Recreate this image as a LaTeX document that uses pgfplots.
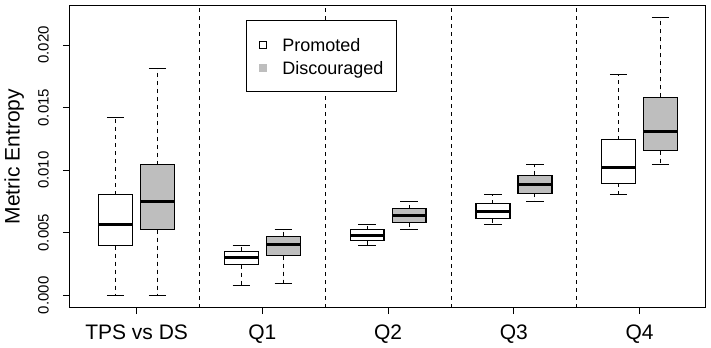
\documentclass[border=0pt]{standalone}
\usepackage{pgfplots}
\pgfplotsset{compat=1.18}
\usepgfplotslibrary{statistics}
\usepackage{fontspec}
\setmainfont{Liberation Sans}
\definecolor{rgray}{HTML}{BEBEBE}

\pgfplotsset{
  boxplot/draw/lower whisker/.code={%
    \draw[line width=0.9bp, dash pattern=on 4bp off 4bp]
      (boxplot box cs:\pgfplotsboxplotvalue{lower quartile},0.5) --
      (boxplot box cs:\pgfplotsboxplotvalue{lower whisker},0.5);
    \draw[line width=1.1bp, solid]
      (boxplot whisker cs:\pgfplotsboxplotvalue{lower whisker},0) --
      (boxplot whisker cs:\pgfplotsboxplotvalue{lower whisker},1);
  },
  boxplot/draw/upper whisker/.code={%
    \draw[line width=0.9bp, dash pattern=on 4bp off 4bp]
      (boxplot box cs:\pgfplotsboxplotvalue{upper quartile},0.5) --
      (boxplot box cs:\pgfplotsboxplotvalue{upper whisker},0.5);
    \draw[line width=1.1bp, solid]
      (boxplot whisker cs:\pgfplotsboxplotvalue{upper whisker},0) --
      (boxplot whisker cs:\pgfplotsboxplotvalue{upper whisker},1);
  },
  pbox/.style={draw=black, fill=white, line width=1.3bp, solid, mark=none,
    forget plot,
    boxplot/draw direction=y,
    boxplot/box extend=0.27, boxplot/whisker extend=0.14,
    boxplot/every median/.style={line width=3.2bp}},
  dbox/.style={pbox, fill=rgray},
  sep/.style={black, line width=0.9bp, dash pattern=on 4bp off 4bp, forget plot},
}

% values in units of 0.001
% position, lower whisker, lower quartile, median, upper quartile, upper whisker
\newcommand{\bx}[7]{%
  \addplot[#7, boxplot prepared={draw position=#1, lower whisker=#2,
    lower quartile=#3, median=#4, upper quartile=#5, upper whisker=#6}]
    coordinates {};
}

\begin{document}
\begin{tikzpicture}
\begin{axis}[
  scale only axis,
  width=635bp, height=301bp,
  xmin=0.47, xmax=5.52,
  ymin=-0.936, ymax=23.12,
  axis line style={line width=1bp},
  xtick={1,2,3,4,5},
  xticklabels={TPS vs DS,Q1,Q2,Q3,Q4},
  ytick={0,5,10,15,20},
  yticklabels={0.000,0.005,0.010,0.015,0.020},
  xtick pos=left, ytick pos=left,
  tick align=outside,
  major tick length=7bp,
  tick style={black, line width=1bp},
  yticklabel style={xshift=-14bp, rotate=90, anchor=south, inner sep=0pt,
    font=\fontsize{15bp}{18bp}\selectfont},
  xticklabel style={yshift=-11bp, inner sep=0pt, font=\fontsize{21bp}{25bp}\selectfont},
  ylabel={Metric Entropy},
  ylabel style={at={(axis description cs:-0.088,0.5)}, anchor=center,
    inner sep=0pt, font=\fontsize{21bp}{25bp}\selectfont},
  legend style={at={(axis description cs:0.277,0.9535)}, anchor=north west,
    draw=black, line width=1bp, inner xsep=13bp, inner ysep=14bp,
    font=\fontsize{18bp}{21bp}\selectfont,
    nodes={inner sep=0pt, text height=17bp, text depth=3bp},
    row sep=3.5bp, column sep=15bp},
  legend cell align=left,
]

% separators
\addplot[sep] coordinates {(1.5,-1) (1.5,24)};
\addplot[sep] coordinates {(2.5,-1) (2.5,24)};
\addplot[sep] coordinates {(3.5,-1) (3.5,24)};
\addplot[sep] coordinates {(4.5,-1) (4.5,24)};

% TPS vs DS
\bx{0.833}{0}{3.97}{5.68}{8.05}{14.21}{pbox}
\bx{1.167}{0}{5.25}{7.50}{10.45}{18.13}{dbox}
% Q1
\bx{1.833}{0.77}{2.45}{3.01}{3.50}{3.97}{pbox}
\bx{2.167}{0.93}{3.17}{4.05}{4.72}{5.23}{dbox}
% Q2
\bx{2.833}{3.97}{4.37}{4.80}{5.25}{5.65}{pbox}
\bx{3.167}{5.25}{5.81}{6.37}{6.93}{7.50}{dbox}
% Q3
\bx{3.833}{5.65}{6.13}{6.70}{7.33}{8.08}{pbox}
\bx{4.167}{7.50}{8.16}{8.83}{9.60}{10.45}{dbox}
% Q4
\bx{4.833}{8.08}{8.96}{10.24}{12.45}{17.65}{pbox}
\bx{5.167}{10.48}{11.57}{13.12}{15.81}{22.21}{dbox}

\addlegendimage{legend image code/.code={%
  \draw[draw=black, fill=white, line width=0.8bp] (0bp,-3.5bp) rectangle (7bp,3.5bp);}}
\addlegendentry{Promoted}
\addlegendimage{legend image code/.code={%
  \fill[rgray] (0bp,-3.5bp) rectangle (7bp,3.5bp);}}
\addlegendentry{Discouraged}

\coordinate (bl) at (rel axis cs:0,0);
\end{axis}
\pgfresetboundingbox
\path[use as bounding box] (bl) ++(-70bp,-41bp) rectangle ++(711bp,348bp);
\end{tikzpicture}
\end{document}
